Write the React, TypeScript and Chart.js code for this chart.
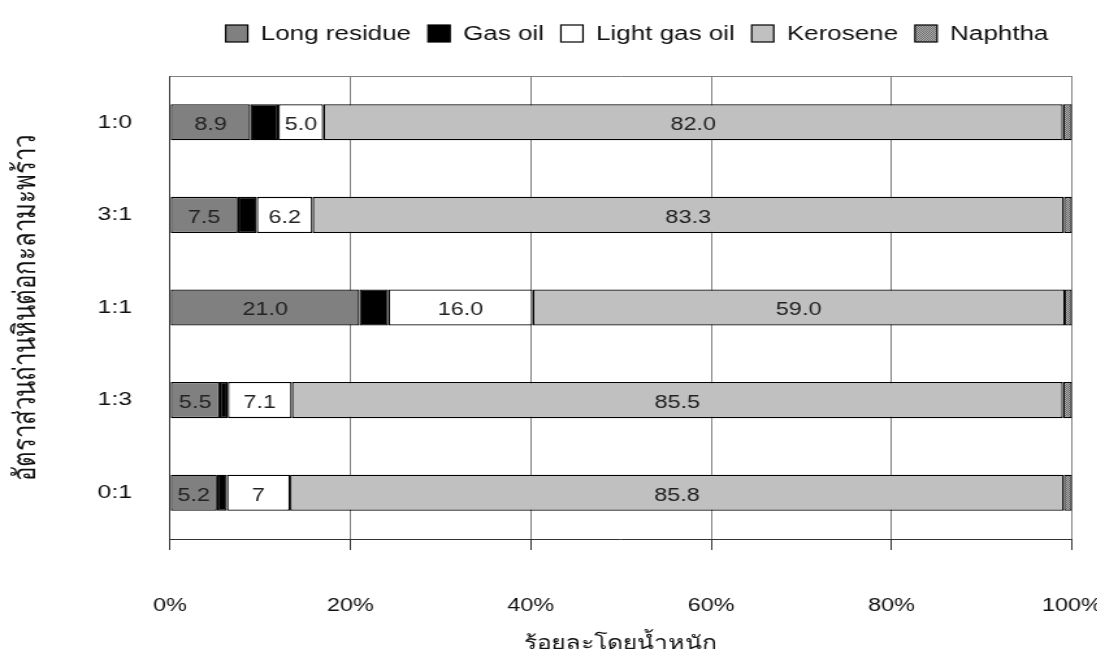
import React, { useEffect, useRef } from 'react';
import { Chart, registerables } from 'chart.js';

Chart.register(...registerables);

// ---- data ----
const categories = ['1:0', '3:1', '1:1', '1:3', '0:1'];
const longResidue = [8.9, 7.5, 21.0, 5.5, 5.2];
const gasOil = [3.1, 2.1, 3.2, 0.9, 1.1];
const lightGasOil = [5.0, 6.2, 16.0, 7.1, 7.0];
const kerosene = [82.0, 83.3, 59.0, 85.5, 85.8];
const naphtha = [1.0, 0.9, 0.8, 1.0, 0.9];

const longResidueLabels = ['8.9', '7.5', '21.0', '5.5', '5.2'];
const lightGasOilLabels = ['5.0', '6.2', '16.0', '7.1', '7'];
const keroseneLabels = ['82.0', '83.3', '59.0', '85.5', '85.8'];

const seriesNames = ['Long residue', 'Gas oil', 'Light gas oil', 'Kerosene', 'Naphtha'];
const xTitle = 'ร้อยละโดยน้ำหนัก';
const yTitle = 'อัตราส่วนถ่านหินต่อกะลามะพร้าว';

const FONT = '"Liberation Sans", Arial, "Noto Sans", sans-serif';
const STRETCH = 1.3;
const CANVAS_W = 850;
const CANVAS_H = 658;

function makeDotPattern(): CanvasPattern | string {
  const c = document.createElement('canvas');
  c.width = 2;
  c.height = 2;
  const g = c.getContext('2d');
  if (!g) return '#909090';
  g.fillStyle = '#b0b0b0';
  g.fillRect(0, 0, 2, 2);
  g.fillStyle = '#6a6a6a';
  g.fillRect(0, 0, 1, 1);
  g.fillRect(1, 1, 1, 1);
  const p = g.createPattern(c, 'repeat');
  return p || '#909090';
}

const segmentLabelPlugin = {
  id: 'segmentLabels',
  afterDatasetsDraw(chart: any) {
    const ctx = chart.ctx;
    ctx.save();
    ctx.font = `18px ${FONT}`;
    ctx.fillStyle = '#222';
    ctx.textAlign = 'center';
    ctx.textBaseline = 'middle';
    chart.data.datasets.forEach((ds: any, i: number) => {
      if (!ds.segmentText) return;
      const meta = chart.getDatasetMeta(i);
      meta.data.forEach((el: any, j: number) => {
        const p = el.getProps(['x', 'y', 'base'], true);
        const cx = (p.x + p.base) / 2;
        ctx.fillText(ds.segmentText[j], cx, p.y + 3);
      });
    });
    ctx.restore();
  },
};

const framePlugin = {
  id: 'frameTop',
  afterDraw(chart: any) {
    const { left, right, top } = chart.chartArea;
    const ctx = chart.ctx;
    ctx.save();
    ctx.strokeStyle = '#808080';
    ctx.lineWidth = 1;
    ctx.beginPath();
    ctx.moveTo(left, top + 0.5);
    ctx.lineTo(right, top + 0.5);
    ctx.stroke();
    ctx.restore();
  },
};

const legendPlugin = {
  id: 'topLegend',
  afterDraw(chart: any) {
    const ctx = chart.ctx;
    ctx.save();
    ctx.font = `20px ${FONT}`;
    const box = 17;
    const gapText = 10;
    const gapItem = 13;
    const items = chart.data.datasets.map((ds: any) => ({ label: ds.label, fill: ds.backgroundColor }));
    const widths = items.map((it: any) => box + gapText + ctx.measureText(it.label).width);
    const total = widths.reduce((a: number, b: number) => a + b, 0) + gapItem * (items.length - 1);
    const { left, right } = chart.chartArea;
    let x = (left + right) / 2 + 12.3 - total / 2;
    const cy = 33.5;
    items.forEach((it: any, k: number) => {
      ctx.fillStyle = it.fill;
      ctx.fillRect(x, cy - box / 2, box, box);
      ctx.strokeStyle = '#000';
      ctx.lineWidth = 1.2;
      ctx.strokeRect(x, cy - box / 2, box, box);
      ctx.fillStyle = '#111';
      ctx.textAlign = 'left';
      ctx.textBaseline = 'middle';
      ctx.fillText(it.label, x + box + gapText, cy + 1);
      x += widths[k] + gapItem;
    });
    ctx.restore();
  },
};

export default function App() {
  const canvasRef = useRef<HTMLCanvasElement | null>(null);

  useEffect(() => {
    const canvas = canvasRef.current;
    if (!canvas) return;
    const dotPattern = makeDotPattern();
    const border = { borderColor: '#000', borderWidth: 1.3, borderSkipped: false as const };
    const chart = new Chart(canvas, {
      type: 'bar',
      data: {
        labels: categories,
        datasets: [
          { label: seriesNames[0], data: longResidue, backgroundColor: '#808080', ...border, segmentText: longResidueLabels } as any,
          { label: seriesNames[1], data: gasOil, backgroundColor: '#000000', ...border } as any,
          { label: seriesNames[2], data: lightGasOil, backgroundColor: '#ffffff', ...border, segmentText: lightGasOilLabels } as any,
          { label: seriesNames[3], data: kerosene, backgroundColor: '#c0c0c0', ...border, segmentText: keroseneLabels } as any,
          { label: seriesNames[4], data: naphtha, backgroundColor: dotPattern, ...border } as any,
        ],
      },
      options: {
        indexAxis: 'y',
        responsive: false,
        animation: false,
        devicePixelRatio: 1,
        layout: { autoPadding: false, padding: { top: 76, right: 25.4, left: 0, bottom: 0 } },
        datasets: { bar: { barPercentage: 0.39, categoryPercentage: 1 } },
        plugins: {
          legend: { display: false },
          tooltip: { enabled: false },
          title: { display: false },
        },
        scales: {
          x: {
            type: 'linear',
            stacked: true,
            min: 0,
            max: 100,
            afterFit: (scale: any) => {
              scale.height = 119;
              scale.paddingLeft = 0;
              scale.paddingRight = 0;
            },
            ticks: {
              stepSize: 20,
              callback: (v: any) => `${v}%`,
              font: { family: FONT, size: 18 },
              color: '#111',
              padding: 45.6,
              maxRotation: 0,
            },
            grid: {
              color: '#808080',
              lineWidth: 1,
              tickColor: '#333',
              tickLength: 11,
              drawTicks: true,
            },
            border: { display: true, color: '#333', width: 1 },
            title: {
              display: true,
              text: xTitle,
              font: { family: FONT, size: 19, lineHeight: 1.47 },
              color: '#111',
              padding: { top: 0, bottom: 0 },
            },
          },
          y: {
            type: 'category',
            stacked: true,
            afterFit: (scale: any) => {
              scale.width = 130.8;
              scale.paddingTop = 0;
              scale.paddingBottom = 0;
            },
            ticks: {
              font: { family: FONT, size: 19 },
              color: '#111',
              padding: 29.3,
            },
            grid: { display: false, drawTicks: false },
            border: { display: true, color: '#333', width: 1 },
            title: {
              display: true,
              text: yTitle,
              font: { family: FONT, size: 24, lineHeight: 1.71 },
              color: '#111',
              padding: { top: 0, bottom: 0 },
            },
          },
        },
      },
      plugins: [segmentLabelPlugin, framePlugin, legendPlugin],
    } as any);
    return () => chart.destroy();
  }, []);

  return (
    <div
      style={{
        width: CANVAS_W,
        height: CANVAS_H,
        margin: '-8px 0 0 -8px',
        transform: `scaleX(${STRETCH})`,
        transformOrigin: '0 0',
      }}
    >
      <canvas ref={canvasRef} width={CANVAS_W} height={CANVAS_H} />
    </div>
  );
}
